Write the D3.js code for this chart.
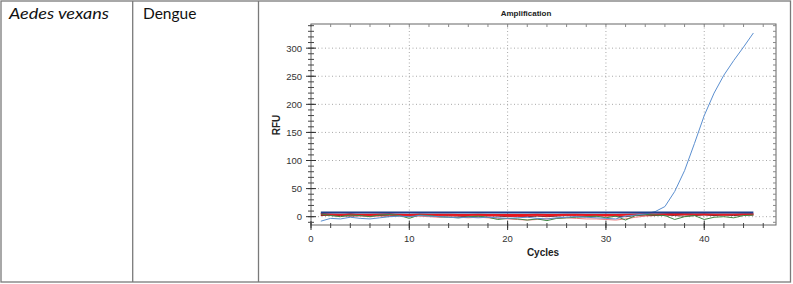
<!DOCTYPE html>
<html><head><meta charset="utf-8">
<script src="https://cdn.jsdelivr.net/npm/d3@7/dist/d3.min.js"></script>
<style>
html,body{margin:0;padding:0;background:#fff;}
svg{display:block;}
</style></head>
<body>
<svg id="c" width="793" height="284"></svg>
<script>
// ---- data ----
const cycles = d3.range(1, 46);
const xTicks = [0, 10, 20, 30, 40];
const yTicks = [0, 50, 100, 150, 200, 250, 300];
const thresholdRFU = 7.5;
const blueAmp = [-8,-3,-4,-1,-3,-4,-2,0,1,0,2,1,0,-1,-2,-1,-2,-1,-2,-3,-2,-1,-3,-4,-2,-1,0,-1,-2,-3,-4,1,3,5,9,18,45,82,130,180,220,252,278,302,327];
const redA = [6,4,3,5,3,2,4,5,3,2,4,3,2,3,2,1,2,1,2,1,0,1,2,1,2,3,2,1,2,1,2,3,4,5,4,5,6,5,4,5,4,3,4,5,5];
const redB = [4,4,3.5,4,3.5,3.5,4,4,3.5,3,4,3.5,3.5,3.5,3,3,3.5,3,3,3,3,3,3.5,3,3,3.5,3.5,3,3,3,3,3.5,4,4,4,4,4,4,4,4,4,4,4,4,4];
const pink = [3,2,1,2,1,0,1,2,1,0,1,0,-1,0,-1,-2,-1,-2,-3,-4,-5,-6,-5,-4,-3,-2,-3,-4,-4,-5,-6,-4,-1,1,2,4,5,6,5,4,3,3,4,4,5];
const green = [5,2,0,3,2,0,3,4,2,-3,3,2,0,-1,-2,0,1,-1,-5,-3,-4,-6,-4,-7,-3,-2,-1,0,1,-2,1,-6,2,4,3,2,-5,0,2,-5,-1,0,-2,2,3];
const dark = [2,3,2,1,2,3,2,1,2,1,3,2,1,2,1,0,1,2,1,0,1,0,1,0,1,2,1,0,1,2,1,0,2,3,2,3,2,1,2,3,2,3,2,3,3];

const series = [
  {name:"pink", values: pink, color:"#f07a7a", width:1},
  {name:"dark", values: dark, color:"#6a2a2a", width:1},
  {name:"redB", values: redB, color:"#e8141b", width:1.8},
  {name:"redA", values: redA, color:"#e4202a", width:1},
  {name:"green", values: green, color:"#3f8a45", width:1},
  {name:"blue", values: blueAmp, color:"#5b8fd0", width:1}
];

const svg = d3.select("#c");

// ---- table ----
const tbl = svg.append("g").attr("stroke", "#7a7a7a").attr("stroke-width", 1.3).attr("fill", "none");
tbl.append("rect").attr("x", 1).attr("y", 1).attr("width", 789.5).attr("height", 281);
tbl.append("line").attr("x1", 132.7).attr("x2", 132.7).attr("y1", 1).attr("y2", 282);
tbl.append("line").attr("x1", 258.5).attr("x2", 258.5).attr("y1", 1).attr("y2", 282);

svg.append("text").attr("x", 9).attr("y", 19).attr("font-family", "Lato, 'Open Sans', sans-serif")
  .attr("font-size", 16).attr("font-style", "italic").attr("fill", "#111")
  .attr("textLength", 100).attr("lengthAdjust", "spacingAndGlyphs").text("Aedes vexans");
svg.append("text").attr("x", 143).attr("y", 19).attr("font-family", "Lato, 'Open Sans', sans-serif")
  .attr("font-size", 15.5).attr("fill", "#111").text("Dengue");

// ---- chart ----
const L = 311, R = 776, T = 24, B = 225;
const x = d3.scaleLinear().domain([0, 47.3]).range([L, R]);
const y = d3.scaleLinear().domain([-14.8, 343]).range([B, T]);

const g = svg.append("g");
// grid
g.append("g").selectAll("line").data(xTicks.filter(d => d > 0)).join("line")
  .attr("x1", d => x(d)).attr("x2", d => x(d)).attr("y1", T).attr("y2", B)
  .attr("stroke", "#a8a8a8").attr("stroke-width", 1).attr("stroke-dasharray", "1,2.5");
g.append("g").selectAll("line").data(yTicks).join("line")
  .attr("y1", d => y(d)).attr("y2", d => y(d)).attr("x1", L).attr("x2", R)
  .attr("stroke", "#a8a8a8").attr("stroke-width", 1).attr("stroke-dasharray", "1,2.5");

// frame
g.append("rect").attr("x", L).attr("y", T).attr("width", R - L).attr("height", B - T)
  .attr("fill", "none").attr("stroke", "#666").attr("stroke-width", 1);

// x ticks
const xMinor = d3.range(0, 47, 2);
g.append("g").selectAll("line").data(xMinor).join("line")
  .attr("x1", d => x(d)).attr("x2", d => x(d)).attr("y1", B - 2).attr("y2", B + 3)
  .attr("stroke", "#444");
g.append("g").selectAll("line").data(xMinor).join("line")
  .attr("x1", d => x(d)).attr("x2", d => x(d)).attr("y1", T).attr("y2", T + 3)
  .attr("stroke", "#888");
g.append("g").selectAll("line").data(xTicks).join("line")
  .attr("x1", d => x(d)).attr("x2", d => x(d)).attr("y1", B - 4).attr("y2", B + 5)
  .attr("stroke", "#333");
g.append("g").selectAll("text").data(xTicks).join("text")
  .attr("x", d => x(d)).attr("y", 242).attr("text-anchor", "middle")
  .attr("font-family", "'Liberation Sans', Arial, sans-serif").attr("font-size", 9.5).attr("fill", "#333")
  .text(d => d);

// y ticks
const yMinor = d3.range(-10, 341, 10);
g.append("g").selectAll("line").data(yMinor).join("line")
  .attr("y1", d => y(d)).attr("y2", d => y(d)).attr("x1", L - 3).attr("x2", L + 3)
  .attr("stroke", "#444");
g.append("g").selectAll("line").data(yMinor).join("line")
  .attr("y1", d => y(d)).attr("y2", d => y(d)).attr("x1", R - 3).attr("x2", R)
  .attr("stroke", "#888");
g.append("g").selectAll("line").data(yTicks).join("line")
  .attr("y1", d => y(d)).attr("y2", d => y(d)).attr("x1", L - 5).attr("x2", L + 5)
  .attr("stroke", "#333");
g.append("g").selectAll("text").data(yTicks).join("text")
  .attr("x", 302).attr("y", d => y(d) + 3.4).attr("text-anchor", "end")
  .attr("font-family", "'Liberation Sans', Arial, sans-serif").attr("font-size", 9.5).attr("fill", "#333")
  .text(d => d);

// titles
svg.append("text").attr("x", 526).attr("y", 16).attr("text-anchor", "middle")
  .attr("font-family", "'Liberation Sans', Arial, sans-serif").attr("font-size", 8).attr("font-weight", "bold")
  .attr("fill", "#222").text("Amplification");
svg.append("text").attr("x", 543).attr("y", 256).attr("text-anchor", "middle")
  .attr("font-family", "'Liberation Sans', Arial, sans-serif").attr("font-size", 10).attr("font-weight", "bold")
  .attr("fill", "#222").text("Cycles");
svg.append("text").attr("transform", "translate(280,125) rotate(-90)").attr("text-anchor", "middle")
  .attr("font-family", "'Liberation Sans', Arial, sans-serif").attr("font-size", 10).attr("font-weight", "bold")
  .attr("fill", "#222").text("RFU");

// series
const line = d3.line().x((d, i) => x(cycles[i])).y(d => y(d));
g.append("g").selectAll("path").data(series).join("path")
  .attr("d", d => line(d.values)).attr("fill", "none")
  .attr("stroke", d => d.color).attr("stroke-width", d => d.width);

// threshold
g.append("line").attr("x1", x(cycles[0])).attr("x2", x(cycles[cycles.length - 1]))
  .attr("y1", y(thresholdRFU)).attr("y2", y(thresholdRFU))
  .attr("stroke", "#1f3f8c").attr("stroke-width", 2);
</script>
</body></html>
